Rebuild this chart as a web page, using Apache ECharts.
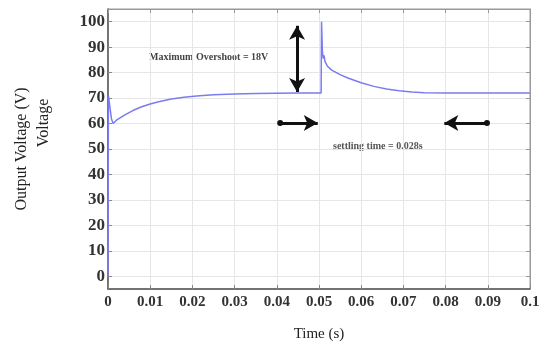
<!DOCTYPE html>
<html>
<head>
<meta charset="utf-8">
<script src="https://cdn.jsdelivr.net/npm/echarts@6/dist/echarts.min.js"></script>
<style>
html,body{margin:0;padding:0;background:#fff;}
#c{width:544px;height:351px;}
</style>
</head>
<body>
<div id="c"></div>
<script>
// time (s)
var timeS = [0, 0.0001, 0.0008, 0.0012, 0.002, 0.004, 0.006, 0.008, 0.010, 0.012, 0.015, 0.018, 0.021, 0.025, 0.030, 0.035, 0.040, 0.045, 0.0505, 0.0506, 0.0508, 0.0510, 0.0512, 0.0514, 0.0516, 0.052, 0.053, 0.055, 0.057, 0.060, 0.063, 0.066, 0.069, 0.072, 0.075, 0.080, 0.090, 0.100];
// output voltage (V)
var voltage = [0, 71, 62, 60, 61.3, 63.4, 65.2, 66.6, 67.7, 68.6, 69.6, 70.3, 70.8, 71.3, 71.6, 71.8, 71.9, 72, 72, 100, 88.5, 85.5, 86.8, 84.5, 84, 82.5, 81, 79.2, 77.8, 76, 74.6, 73.6, 72.9, 72.4, 72.1, 72, 72, 72];
var yTicks = [0, 10, 20, 30, 40, 50, 60, 70, 80, 90, 100];
var xTickLabels = ['0', '0.01', '0.02', '0.03', '0.04', '0.05', '0.06', '0.07', '0.08', '0.09', '0.1'];
// annotation arrows: [t1, v1, t2, v2]
var overshootArrow = [0.0448, 98.4, 0.0448, 72.4];
var settleArrowRight = [0.0408, 60.2, 0.0497, 60.2];
var settleArrowLeft = [0.0898, 60.2, 0.0797, 60.2];
var overshootText = 'Maximum Overshoot = 18V';
var settleText = 'settling time = 0.028s';

var data = timeS.map(function (t, i) { return [t, voltage[i]]; });
var serif = '"Liberation Serif", "Times New Roman", serif';

function arrowLine(a, symbols, sizes) {
  return [
    { coord: [a[0], a[1]], symbol: symbols[0], symbolSize: sizes[0] },
    { coord: [a[2], a[3]], symbol: symbols[1], symbolSize: sizes[1] }
  ];
}

var chart = echarts.init(document.getElementById('c'), null, {renderer: 'canvas'});
chart.setOption({
  animation: false,
  backgroundColor: '#fff',
  grid: {left: 108, right: 14, top: 9, bottom: 62, show: true, borderColor: '#999', borderWidth: 1},
  xAxis: [{
    type: 'value', min: 0, max: 0.1, interval: 0.01, position: 'bottom',
    name: 'Time (s)', nameLocation: 'middle', nameGap: 38,
    nameTextStyle: {fontFamily: serif, fontSize: 15, color: '#222'},
    axisLine: {show: true, onZero: false, lineStyle: {color: '#555', width: 1.5}},
    axisTick: {show: true, inside: true, length: 4, lineStyle: {color: '#888'}},
    axisLabel: {
      fontFamily: serif, fontSize: 15, fontWeight: 'bold', color: '#333', margin: 6,
      formatter: function (v) { return xTickLabels[Math.round(v * 100)]; }
    },
    splitLine: {show: true, lineStyle: {color: '#e6e6e6', width: 1}}
  }, {
    type: 'value', min: 0, max: 0.1, interval: 0.01, position: 'top',
    axisLine: {show: true, onZero: false, lineStyle: {color: '#999', width: 1}},
    axisTick: {show: true, inside: true, length: 4, lineStyle: {color: '#999'}},
    axisLabel: {show: false}, splitLine: {show: false}
  }],
  yAxis: [{
    type: 'value', min: -5, max: 105, position: 'left',
    axisLine: {show: true, onZero: false, lineStyle: {color: '#555', width: 1.5}},
    axisTick: {show: true, inside: true, length: 4, customValues: yTicks, lineStyle: {color: '#888'}},
    axisLabel: {
      fontFamily: serif, fontSize: 17, fontWeight: 'bold', color: '#333', margin: 3,
      customValues: yTicks
    },
    splitLine: {show: true, lineStyle: {color: '#e6e6e6', width: 1}}
  }, {
    type: 'value', min: -5, max: 105, position: 'right',
    axisLine: {show: true, onZero: false, lineStyle: {color: '#999', width: 1}},
    axisTick: {show: true, inside: true, length: 4, customValues: yTicks, lineStyle: {color: '#999'}},
    axisLabel: {show: false, customValues: yTicks}, splitLine: {show: false}
  }],
  series: [{
    type: 'line',
    data: data,
    showSymbol: false,
    lineStyle: {color: '#7a7cf0', width: 1.5},
    markLine: {
      silent: true,
      lineStyle: {color: '#111', width: 3, type: 'solid'},
      label: {show: false},
      data: [
        arrowLine(overshootArrow, ['arrow', 'arrow'], [[12, 14], [12, 14]]),
        arrowLine(settleArrowRight, ['circle', 'arrow'], [6, [12, 14]]),
        arrowLine(settleArrowLeft, ['circle', 'arrow'], [6, [12, 14]])
      ]
    }
  }],
  graphic: [
    {type: 'text', left: 149, top: 52, style: {text: overshootText, font: 'bold 10px ' + serif, fill: '#444'}},
    {type: 'text', left: 333, top: 141, style: {text: settleText, font: 'bold 10px ' + serif, fill: '#555'}},
    {type: 'text', x: 22, y: 149, rotation: Math.PI / 2, style: {text: 'Output Voltage (V)', font: '16px ' + serif, fill: '#222', align: 'center', verticalAlign: 'middle'}},
    {type: 'text', x: 44, y: 123, rotation: Math.PI / 2, style: {text: 'Voltage', font: '16px ' + serif, fill: '#222', align: 'center', verticalAlign: 'middle'}}
  ]
});
</script>
</body>
</html>
